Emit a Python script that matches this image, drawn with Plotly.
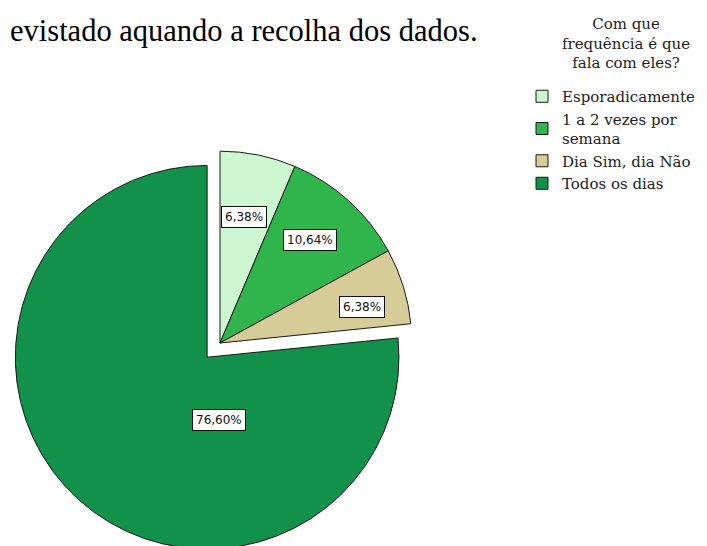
import math
import plotly.graph_objects as go

# ---- data ----
categories = ["Esporadicamente", "1 a 2 vezes por<br>semana", "Dia Sim, dia Não", "Todos os dias"]
percentages = [6.38, 10.64, 6.38, 76.60]
value_labels = ["6,38%", "10,64%", "6,38%", "76,60%"]
legend_title = "Com que<br>frequência é que<br>fala com eles?"
page_text = "evistado aquando a recolha dos dados."

# ---- style ----
colors = ["#ccf7d0", "#2fb54c", "#d5cc98", "#12914a"]
pulls = [0, 0, 0, 0.1]
label_radius = [0.668, 0.712, 0.763, 0.333]   # fraction of radius
label_angle_shift = [-0.7, -1.0, 3.0, -52.8]  # degrees from slice mid-angle

W, H = 707, 546
dom_x = [1 / W, 423 / W]
dom_y = [0.0, 422 / H]

fig = go.Figure()
fig.add_trace(go.Pie(
    labels=categories,
    values=percentages,
    sort=False,
    direction="clockwise",
    rotation=0,
    pull=pulls,
    textinfo="none",
    hoverinfo="label+percent",
    marker=dict(colors=colors, line=dict(color="#1a1a1a", width=1)),
    domain=dict(x=dom_x, y=dom_y),
    showlegend=True,
))

# pie geometry in pixels (same formula plotly uses)
box_w = W * (dom_x[1] - dom_x[0])
box_h = H * (dom_y[1] - dom_y[0])
r = min(box_w, box_h) / 2 / (1 + max(pulls))
cx = W * (dom_x[0] + dom_x[1]) / 2
cy = H * (1 - dom_y[0]) - box_h / 2

total = sum(percentages)
cum = 0.0
annotations = []
for v, lab, rf, sh, p in zip(percentages, value_labels, label_radius, label_angle_shift, pulls):
    mid = (cum + v / 2) / total * 360.0
    cum += v
    a = math.radians(mid)
    scx = cx + p * r * math.sin(a)
    scy = cy - p * r * math.cos(a)
    la = math.radians(mid + sh)
    px = scx + rf * r * math.sin(la)
    py = scy - rf * r * math.cos(la)
    annotations.append(dict(
        x=px / W, y=1 - py / H, xref="paper", yref="paper",
        xanchor="center", yanchor="middle",
        text=lab, showarrow=False,
        font=dict(family="DejaVu Sans", size=12, color="#111"),
        bgcolor="white", bordercolor="#111", borderwidth=1, borderpad=3,
    ))

annotations.append(dict(
    x=0, y=1 - 23 / H, xref="paper", yref="paper",
    xanchor="left", yanchor="middle", text=page_text, showarrow=False,
    font=dict(family="Liberation Serif", size=30.5, color="black"),
))

annotations.append(dict(
    x=618 / W, y=1 - 36 / H, xref="paper", yref="paper",
    xanchor="center", yanchor="middle", align="center",
    text=legend_title, showarrow=False,
    font=dict(family="DejaVu Serif", size=15, color="#222"),
))

fig.update_layout(
    width=W, height=H,
    margin=dict(l=0, r=0, t=0, b=0),
    paper_bgcolor="white",
    plot_bgcolor="white",
    annotations=annotations,
    legend=dict(
        x=514 / W, y=1 - 72 / H, xanchor="left", yanchor="top",
        font=dict(family="DejaVu Serif", size=15, color="#222"),
        bgcolor="rgba(0,0,0,0)",
        tracegroupgap=0,
        itemwidth=30,
    ),
)

fig.write_html("out.html")
